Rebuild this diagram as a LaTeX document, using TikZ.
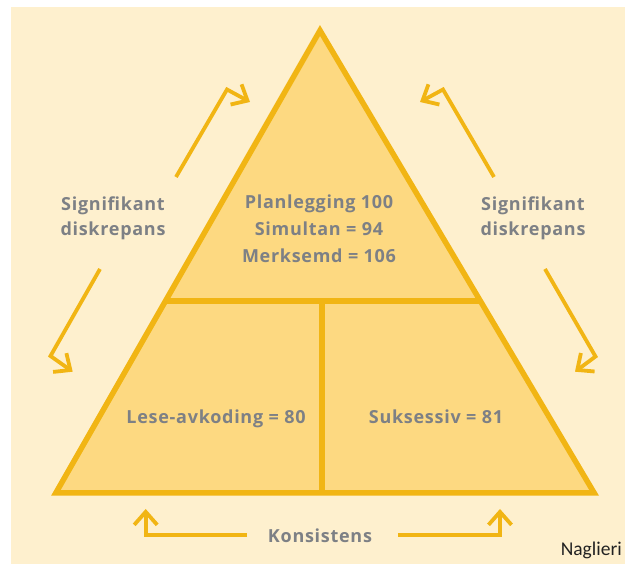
\documentclass[tikz,border=0pt]{standalone}
\usepackage{fontspec}
\usetikzlibrary{arrows.meta,calc}
\newfontfamily\lblfont[LetterSpace=4]{Open Sans}
\newfontfamily\capfont{Carlito}
\definecolor{bgc}{HTML}{FEF0CE}
\definecolor{fillc}{HTML}{FDD981}
\definecolor{strk}{HTML}{F1B514}
\definecolor{txtc}{HTML}{7D8085}
\definecolor{nagc}{HTML}{222222}
\begin{document}
\begin{tikzpicture}[x=1pt,y=-1pt,
  lbl/.style={font=\lblfont\bfseries\fontsize{18}{21}\selectfont, text=txtc, anchor=base, inner sep=0pt},
  conn/.style={draw=strk, line width=3.8pt, line join=miter, -{Straight Barb[length=13pt,width=23pt,sharp]}},
  edgeline/.style={draw=strk, line width=5.5pt, line join=miter}]
\useasboundingbox (0,0) rectangle (625,564);
\fill[white] (0,0) rectangle (625,564);
\fill[bgc] (11,7.5) rectangle (625,564);
% triangle
\coordinate (A) at (320,30.5);
\coordinate (L) at (55.8,493);
\coordinate (R) at (594.2,493);
\coordinate (HL) at ($(A)!0.5849!(L)$);
\coordinate (HR) at ($(A)!0.5849!(R)$);
\coordinate (VT) at (322,301);
\coordinate (VB) at (322,493);
\path[fill=fillc] (A) -- (L) -- (R) -- cycle;
\draw[edgeline] (HL) -- (HR);
\draw[edgeline] (VT) -- (VB);
\draw[edgeline] (A) -- (L) -- (R) -- cycle;
% labels
\node[lbl] (p1) at (319,209) {Planlegging 100};
\node[lbl] (p2) at (319,236) {Simultan = 94};
\node[lbl] (p3) at (319,262.7) {Merksemd = 106};
\node[lbl] (sl1) at (113,210.5) {Signifikant};
\node[lbl] (sl2) at (113,236) {diskrepans};
\node[lbl] (sr1) at (533,210.5) {Signifikant};
\node[lbl] (sr2) at (533,236) {diskrepans};
\node[lbl] (le) at (216,424) {Lese-avkoding = 80};
\node[lbl] (su) at (436,424) {Suksessiv = 81};
\node[lbl] (ko) at (320,542.6) {Konsistens};
\node[font=\capfont\fontsize{19.5}{22}\selectfont, text=nagc, anchor=base east, inner sep=0pt] (na) at (622,555) {Naglieri};
% arrows
\coordinate (a1s) at (176,177);
\coordinate (a1c) at (227,89.5);
\coordinate (a1t) at (250,102);
\draw[conn] (a1s) -- (a1c) -- (a1t);
\coordinate (a2s) at (100,269);
\coordinate (a2c) at (50.5,356);
\coordinate (a2t) at (72.7,371.7);
\draw[conn] (a2s) -- (a2c) -- (a2t);
\coordinate (a3s) at (494,177);
\coordinate (a3c) at (443,89.5);
\coordinate (a3t) at (420,102);
\draw[conn] (a3s) -- (a3c) -- (a3t);
\coordinate (a4s) at (545,269);
\coordinate (a4c) at (595.5,356.5);
\coordinate (a4t) at (575,371.7);
\draw[conn] (a4s) -- (a4c) -- (a4t);
\coordinate (b1s) at (247,535.2);
\coordinate (b1c) at (145.7,535.2);
\coordinate (b1t) at (145.7,509);
\draw[conn] (b1s) -- (b1c) -- (b1t);
\coordinate (b2s) at (398,535.2);
\coordinate (b2c) at (500,535.2);
\coordinate (b2t) at (500,509);
\draw[conn] (b2s) -- (b2c) -- (b2t);
\end{tikzpicture}
\end{document}
